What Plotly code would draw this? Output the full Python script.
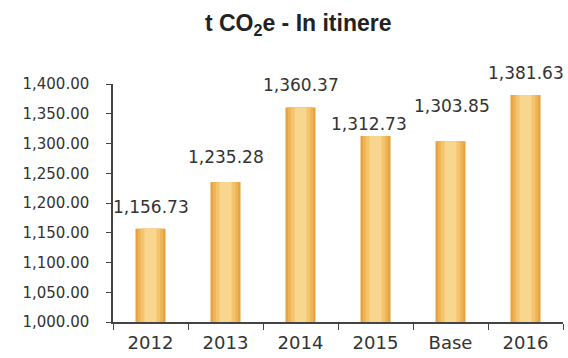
import plotly.graph_objects as go

categories = ["2012", "2013", "2014", "2015", "Base", "2016"]
values = [1156.73, 1235.28, 1360.37, 1312.73, 1303.85, 1381.63]
labels = ["1,156.73", "1,235.28", "1,360.37", "1,312.73", "1,303.85", "1,381.63"]
y_ticks = [1000, 1050, 1100, 1150, 1200, 1250, 1300, 1350, 1400]
y_tick_text = ["1,000.00", "1,050.00", "1,100.00", "1,150.00", "1,200.00",
               "1,250.00", "1,300.00", "1,350.00", "1,400.00"]

# label placement offsets in pixels (layout only)
label_yshift = [22, 25, 23, 12, 35, 22]
label_xshift = [0, 0, 0, -7, 1, 0]

FONT = "DejaVu Sans, Liberation Sans, Arial"

fig = go.Figure()
# layered bars to imitate the cylindrical gradient
layers = [(0.40, "#E6A23E"), (0.34, "#EEB353"), (0.26, "#F4C46C"), (0.16, "#F9D68F")]
for w, c in layers:
    fig.add_trace(go.Bar(
        x=categories, y=[v - 1000 for v in values], base=1000,
        width=w, marker=dict(color=c, line=dict(width=0)),
        hoverinfo="skip", showlegend=False,
    ))

for i, (v, t) in enumerate(zip(values, labels)):
    fig.add_annotation(x=i, y=v, text=t, showarrow=False,
                       yshift=label_yshift[i], xshift=label_xshift[i],
                       font=dict(family=FONT, size=17, color="#333333"))

fig.update_layout(
    width=568, height=358,
    margin=dict(l=113, r=5, t=84, b=36),
    paper_bgcolor="white", plot_bgcolor="white",
    barmode="overlay",
    title=dict(text="<b>t CO<sub>2</sub>e - In itinere</b>", x=0.525, xanchor="center",
               y=0.935, yanchor="middle",
               font=dict(family="Liberation Sans, Arial", size=23, color="#222222")),
    font=dict(family=FONT, size=15, color="#333333"),
)
fig.update_xaxes(
    type="category", range=[-0.5, 5.5], showline=True, linecolor="#444444", linewidth=1.5,
    ticks="outside", tickson="boundaries", ticklen=6, tickcolor="#444444",
    showgrid=False, ticklabelstandoff=4, tickangle=0,
    tickfont=dict(family=FONT, size=18),
)
fig.update_yaxes(
    range=[1000, 1400], tickvals=y_ticks, ticktext=y_tick_text,
    showline=True, linecolor="#444444", linewidth=1.5,
    ticks="outside", ticklen=5, tickcolor="#444444",
    showgrid=False, zeroline=False, ticklabelstandoff=14,
    tickfont=dict(family=FONT, size=15),
)
fig.write_html("out.html")
